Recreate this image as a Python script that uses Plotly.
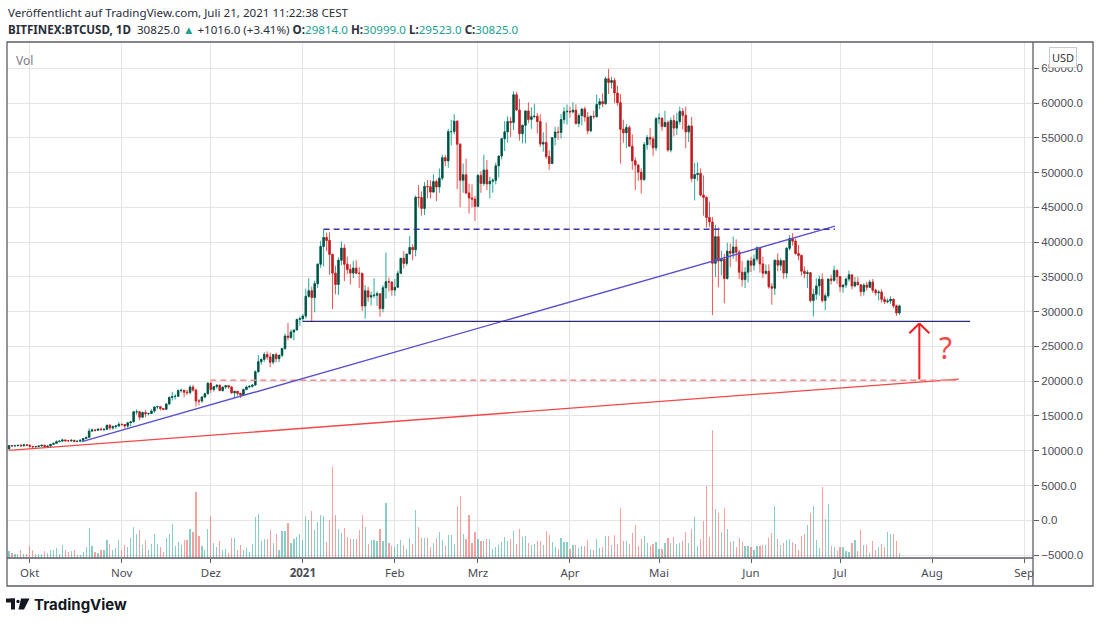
import pandas as pd
import plotly.graph_objects as go

# -----------------------------
# Daily BTCUSD candles, Bitfinex, 24 Sep 2020 - 21 Jul 2021
# -----------------------------
dates = pd.date_range("2020-09-24", "2021-07-21", freq="D")

opens = [
    # Sep 24-30
    10240, 10740, 10690, 10730, 10775, 10700, 10840,
    # Oct
    10780, 10620, 10570, 10590, 10680, 10790, 10600, 10670, 10920, 11060, 11300, 11380, 11550, 11430, 11420, 11500,
    11330, 11370, 11510, 11750, 11920, 12820, 12980, 12930, 13120, 13040, 13070, 13650, 13280, 13460, 13560,
    # Nov
    13800, 13760, 13550, 14030, 14150, 15590, 15600, 14830, 15480, 15330, 15360, 15700, 16290, 16330, 16070,
    15960, 16720, 17650, 17800, 17820, 18650, 18700, 18420, 18360, 19160, 18720, 17150, 17140, 17720, 18180,
    # Dec
    19700, 18790, 19220, 19420, 18650, 19150, 19360, 19170, 18320, 18540, 18250, 18030, 18800, 19160, 19270, 19440,
    21350, 22800, 23130, 23840, 23480, 22740, 23820, 23240, 23730, 24710, 26490, 26280, 27080, 27360, 28880,
    # Jan
    28990, 29380, 32200, 33000, 32030, 34030, 36820, 39370, 40670, 40240, 38240, 35540, 33910, 37390, 39150, 36830,
    36070, 35550, 36270, 35530, 35510, 30820, 33000, 32100, 32300, 32370, 32570, 30450, 33440, 34310, 34270,
    # Feb
    33110, 33520, 35520, 37670, 36940, 38290, 39240, 38900, 46450, 46400, 44850, 48010, 47970, 47200,
    48700, 47940, 49200, 52150, 51680, 55890, 55900, 57400, 54090, 48900, 49680, 47070, 46340, 46190,
    # Mar
    45140, 49590, 48440, 50370, 48370, 48760, 48880, 50970, 52380, 54880, 55860, 57330, 57200, 61190, 59000, 55600,
    56800, 58870, 57650, 58030, 58100, 57350, 54100, 54340, 52300, 51300, 55030, 55840, 55780, 57620, 58750,
    # Apr
    58800, 58730, 58970, 57060, 58200, 59130, 57990, 56000, 58090, 58050, 59790, 60200, 59890, 63500, 62970,
    63230, 61450, 60060, 56230, 55720, 56480, 53800, 51710, 51090, 50050, 49000, 54020, 55040, 54840, 53560,
    # May
    57750, 57830, 56630, 57210, 53240, 57480, 56400, 57350, 58800, 58230, 55860, 56700, 49150, 49720, 49880, 46760,
    46430, 43540, 42900, 36960, 40780, 37280, 37530, 34770, 38700, 38400, 39290, 38560, 35680, 34610, 35680,
    # Jun
    37290, 36690, 37560, 39190, 36860, 35520, 35800, 33580, 33380, 37390, 36690, 37330, 35550, 39100, 40520,
    40140, 38350, 38090, 35820, 35480, 35600, 31600, 32510, 33690, 34660, 31590, 32280, 34700, 34500, 35910,
    # Jul 1-21
    35040, 33570, 33820, 34690, 35290, 33690, 34220, 33860, 32880, 33810, 33510, 34260, 33090, 32730, 32820,
    31780, 31420, 31530, 31780, 30840, 29814,
]

highs = [
    10780, 10770, 10790, 10800, 10950, 10860, 10850,
    10920, 10660, 10600, 10700, 10800, 10800, 10690, 10950, 11120, 11480, 11440, 11720, 11560, 11550, 11620, 11540,
    11400, 11510, 11810, 12020, 13220, 13200, 13030, 13170, 13340, 13250, 13790, 13860, 13640, 13680, 14100,
    13900, 13820, 14070, 14250, 15750, 15960, 15760, 15650, 15830, 15460, 15960, 16350, 16480, 16330, 16130,
    16880, 17840, 18480, 18150, 18820, 18950, 18740, 18790, 19430, 19480, 18900, 17450, 17870, 18350, 19860,
    19920, 19320, 19570, 19510, 19180, 19420, 19400, 19300, 18640, 18560, 18270, 18950, 19400, 19330, 19560, 21560,
    23770, 23280, 24170, 24300, 24100, 23850, 24110, 23800, 24760, 26870, 28400, 27450, 27390, 28990, 29320,
    29650, 33300, 34800, 33600, 34450, 36950, 40200, 41850, 41350, 41400, 38300, 36600, 37800, 40100, 39700, 37900,
    36800, 37300, 37400, 36400, 35580, 33800, 33580, 32900, 34800, 32900, 32570, 33800, 38500, 34900, 34300,
    34700, 35900, 37700, 38700, 38300, 40900, 39700, 46700, 48200, 47300, 48650, 48950, 48900, 49750,
    49000, 50600, 52600, 52500, 56300, 57600, 58400, 57500, 54200, 51300, 52000, 48400, 48300, 46650,
    49800, 50200, 52600, 51800, 49400, 49200, 51400, 52400, 54900, 57400, 58100, 58000, 61700, 61600, 60600, 56900,
    58900, 60100, 59400, 59900, 58600, 58400, 55800, 57200, 53200, 55100, 56600, 56600, 58400, 59400, 59800,
    59500, 60100, 59800, 58500, 59300, 59500, 58700, 58200, 58900, 61200, 60700, 61400, 63800, 64900, 63800,
    63600, 62500, 61300, 57600, 57000, 56800, 55500, 52200, 51200, 50600, 54400, 55400, 56400, 55200, 58000,
    58500, 57900, 58900, 57500, 57900, 58300, 58600, 59500, 59300, 59500, 56900, 58000, 51400, 51500, 50600, 49600,
    46600, 45800, 43600, 42500, 42100, 38800, 38300, 39900, 39800, 40800, 40400, 38900, 37300, 36400, 37500,
    37900, 38200, 39400, 39200, 37900, 36800, 36800, 34100, 37500, 38400, 37700, 37400, 39300, 41000, 41300,
    40500, 39600, 38200, 36500, 36000, 35700, 33300, 34800, 35200, 35500, 32700, 34700, 35300, 36600, 36100,
    35100, 33900, 34900, 35900, 35300, 35000, 35000, 33900, 34100, 34300, 34600, 34700, 33300, 33100, 33200,
    32200, 31900, 32200, 31900, 31000, 30999,
]

lows = [
    10200, 10560, 10650, 10630, 10680, 10650, 10680,
    10440, 10370, 10520, 10550, 10630, 10530, 10560, 10540, 10830, 11050, 11260, 11200, 11300, 11280, 11300, 11220,
    11300, 11340, 11420, 11700, 11900, 12700, 12750, 12900, 12910, 12800, 13050, 12950, 12990, 13130, 13430,
    13620, 13200, 13290, 13530, 14100, 15180, 14380, 14720, 14850, 15100, 15300, 15460, 15970, 15780, 15800,
    15880, 16560, 17220, 17360, 17760, 18360, 17660, 18000, 18100, 18500, 16350, 16520, 16880, 17550, 18180,
    18330, 18500, 18930, 18590, 18500, 18860, 18900, 18200, 17650, 17930, 17570, 18000, 18730, 19000, 19060, 19300,
    21230, 22350, 22790, 23080, 22000, 22400, 22720, 22750, 23420, 24510, 25870, 26100, 25880, 27340, 27980,
    28600, 29000, 32000, 28600, 29900, 33400, 36300, 36500, 38700, 35300, 30400, 32500, 32400, 36700, 34400, 35400,
    33900, 34800, 35400, 33400, 30100, 29000, 31400, 30900, 31950, 30840, 29270, 29900, 31900, 32900, 32300,
    32300, 33420, 35400, 36200, 36600, 38200, 37400, 37950, 45000, 43800, 43900, 46300, 46300, 47100,
    45900, 47100, 48900, 50900, 50700, 53900, 55500, 47600, 45000, 47100, 46900, 44100, 45000, 43000,
    45000, 47100, 48100, 47500, 46300, 47100, 48300, 49300, 51900, 53100, 54300, 55100, 56100, 58900, 54600, 54200,
    54200, 57100, 56300, 57800, 55600, 53700, 53000, 52000, 50400, 51300, 53900, 54700, 54900, 57000, 56900,
    57900, 58500, 56900, 56500, 56800, 57300, 55500, 55800, 57700, 57900, 59100, 59400, 59800, 61300, 62100,
    60000, 59600, 51300, 54300, 53500, 53700, 50400, 47500, 48800, 47000, 48800, 53300, 53900, 52400, 53100,
    57000, 56000, 56500, 53000, 52900, 55200, 55400, 56900, 56200, 53500, 54400, 48600, 46000, 48800, 46600, 43800,
    42100, 42200, 29500, 35000, 33500, 35200, 31200, 34600, 36400, 37600, 37200, 34700, 33600, 33400, 34200,
    35700, 35900, 37200, 35600, 34800, 35300, 33300, 31000, 32400, 35800, 35900, 34700, 34800, 38800, 39500,
    38200, 37400, 35200, 34800, 33400, 31300, 29300, 31700, 32300, 31300, 30200, 32000, 33900, 34300, 34000,
    32800, 32700, 33400, 34300, 33200, 33500, 33800, 32200, 32300, 33000, 33400, 32700, 32300, 31600, 31300,
    31100, 31200, 31100, 30500, 29400, 29523,
]

closes = [
    10740, 10690, 10730, 10775, 10700, 10840, 10780,
    10620, 10570, 10590, 10680, 10790, 10600, 10670, 10920, 11060, 11300, 11380, 11550, 11430, 11420, 11500, 11330,
    11370, 11510, 11750, 11920, 12820, 12980, 12930, 13120, 13040, 13070, 13650, 13280, 13460, 13560, 13800,
    13760, 13550, 14030, 14150, 15590, 15600, 14830, 15480, 15330, 15360, 15700, 16290, 16330, 16070, 15960,
    16720, 17650, 17800, 17820, 18650, 18700, 18420, 18360, 19160, 18720, 17150, 17140, 17720, 18180, 19700,
    18790, 19220, 19420, 18650, 19150, 19360, 19170, 18320, 18540, 18250, 18030, 18800, 19160, 19270, 19440, 21350,
    22800, 23130, 23840, 23480, 22740, 23820, 23240, 23730, 24710, 26490, 26280, 27080, 27360, 28880, 28990,
    29380, 32200, 33000, 32030, 34030, 36820, 39370, 40670, 40240, 38240, 35540, 33910, 37390, 39150, 36830, 36070,
    35550, 36270, 35530, 35510, 30820, 33000, 32100, 32300, 32370, 32570, 30450, 33440, 34310, 34270, 33110,
    33520, 35520, 37670, 36940, 38290, 39240, 38900, 46450, 46400, 44850, 48010, 47970, 47200, 48700,
    47940, 49200, 52150, 51680, 55890, 55900, 57400, 54090, 48900, 49680, 47070, 46340, 46190, 45140,
    49590, 48440, 50370, 48370, 48760, 48880, 50970, 52380, 54880, 55860, 57330, 57200, 61190, 59000, 55600, 56800,
    58870, 57650, 58030, 58100, 57350, 54100, 54340, 52300, 51300, 55030, 55840, 55780, 57620, 58750, 58800,
    58730, 58970, 57060, 58200, 59130, 57990, 56000, 58090, 58050, 59790, 60200, 59890, 63500, 62970, 63230,
    61450, 60060, 56230, 55720, 56480, 53800, 51710, 51090, 50050, 49000, 54020, 55040, 54840, 53560, 57750,
    57830, 56630, 57210, 53240, 57480, 56400, 57350, 58800, 58230, 55860, 56700, 49150, 49720, 49880, 46760, 46430,
    43540, 42900, 36960, 40780, 37280, 37530, 34770, 38700, 38400, 39290, 38560, 35680, 34610, 35680, 37290,
    36690, 37560, 39190, 36860, 35520, 35800, 33580, 33380, 37390, 36690, 37330, 35550, 39100, 40520, 40140,
    38350, 38090, 35820, 35480, 35600, 31600, 32510, 33690, 34660, 31590, 32280, 34700, 34500, 35910, 35040,
    33570, 33820, 34690, 35290, 33690, 34220, 33860, 32880, 33810, 33510, 34260, 33090, 32730, 32820, 31780,
    31420, 31530, 31780, 30840, 29814, 30825,
]

# daily volume, hundreds of BTC
volume = [
    7, 5, 4, 4, 8, 4, 4,
    12, 8, 4, 4, 4, 7, 5, 8, 8, 10, 4, 13, 8, 6, 7, 8, 3, 3, 6, 11, 30, 12, 6, 5, 8, 8, 18, 14, 8, 10, 18,
    8, 13, 11, 20, 31, 24, 28, 13, 18, 8, 14, 24, 14, 11, 6, 20, 24, 34, 12, 16, 13, 18, 18, 29, 26, 66, 22, 12, 8, 29,
    42, 15, 11, 17, 8, 9, 5, 20, 20, 8, 13, 8, 10, 6, 14, 41, 44, 17, 19, 19, 28, 15, 24, 8, 27, 27, 35, 15, 19, 21, 24,
    18, 42, 38, 47, 28, 36, 43, 42, 16, 38, 91, 43, 29, 25, 30, 21, 19, 19, 19, 28, 43, 31, 14, 18, 18, 17, 29, 17, 55, 15, 12,
    11, 14, 18, 13, 9, 20, 14, 48, 31, 20, 20, 20, 11, 15, 20, 26, 18, 12, 23, 23, 14, 52, 62, 24, 19, 43, 15, 26,
    19, 17, 17, 19, 19, 9, 11, 13, 16, 21, 17, 19, 27, 14, 29, 21, 22, 15, 13, 14, 17, 17, 13, 27, 23, 16, 11, 9, 20, 16, 16,
    9, 13, 13, 10, 12, 12, 18, 9, 8, 19, 10, 11, 22, 22, 13, 23, 14, 50, 17, 17, 14, 25, 33, 12, 19, 22, 15, 12, 14, 16,
    9, 9, 15, 20, 15, 21, 14, 15, 17, 26, 15, 29, 41, 12, 19, 37, 72, 21, 128, 49, 45, 26, 50, 29, 16, 17, 11, 20, 16, 12, 12,
    11, 8, 12, 12, 13, 13, 20, 25, 52, 19, 13, 15, 18, 19, 16, 14, 8, 22, 24, 33, 45, 52, 18, 10, 71, 39, 54, 12, 11, 7,
    11, 11, 7, 6, 15, 18, 7, 28, 13, 13, 5, 17, 8, 11, 14, 11, 26, 24, 24, 17, 5,
]

for name, arr in [("opens", opens), ("highs", highs), ("lows", lows), ("closes", closes), ("volume", volume)]:
    assert len(arr) == len(dates), (name, len(arr), len(dates))

# month ticks on the time scale
month_ticks = ["2020-10-01", "2020-11-01", "2020-12-01", "2021-01-01", "2021-02-01", "2021-03-01",
               "2021-04-01", "2021-05-01", "2021-06-01", "2021-07-01", "2021-08-01", "2021-09-01"]
month_labels = ["Okt", "Nov", "Dez", "<b>2021</b>", "Feb", "Mrz", "Apr", "Mai", "Jun", "Jul", "Aug", "Sep"]

# user drawings (date, price)
trend_blue = (["2020-10-18 14:00", "2021-06-29 07:00"], [11300, 42300])
resistance_dash = (["2021-01-08", "2021-06-29 07:00"], [41850, 41850])
support_line = (["2021-01-01", "2021-08-13 19:00"], [28600, 28600])
trend_red = (["2020-09-24", "2021-08-10"], [10050, 20300])
level_red_dash = (["2020-11-30 20:00", "2021-08-10"], [20150, 20150])
arrow_x = ["2021-07-24 08:00", "2021-07-27 17:00", "2021-07-31 02:00"]
arrow_y = [20250, 28300, 26900]
question = ("2021-08-05 12:00", 24900)

UP_WICK, DN_WICK = "#26a69a", "#ef5350"
UP_BODY, DN_BODY = "#0a4d3e", "#bc1f24"


def px_x(x):
    return (x - 7) / 1026


def px_y(y):
    return (558 - y) / 516


body_hi = [max(o, c) for o, c in zip(opens, closes)]
body_lo = [min(o, c) for o, c in zip(opens, closes)]
vol_colors = ["rgba(38,166,154,0.55)" if c >= o else "rgba(239,83,80,0.55)" for o, c in zip(opens, closes)]

fig = go.Figure()

fig.add_trace(go.Bar(x=dates, y=volume, yaxis="y2", marker_color=vol_colors,
                     marker_line_width=0, width=0.4 * 86400000, showlegend=False))

# wicks
fig.add_trace(go.Candlestick(
    x=dates, open=opens, high=highs, low=lows, close=closes,
    increasing=dict(line=dict(color=UP_WICK, width=1), fillcolor=UP_WICK),
    decreasing=dict(line=dict(color=DN_WICK, width=1), fillcolor=DN_WICK),
    showlegend=False,
))
# bodies
fig.add_trace(go.Candlestick(
    x=dates, open=opens, high=body_hi, low=body_lo, close=closes,
    increasing=dict(line=dict(color=UP_BODY, width=0.6), fillcolor=UP_BODY),
    decreasing=dict(line=dict(color=DN_BODY, width=0.6), fillcolor=DN_BODY),
    showlegend=False,
))

shapes = []


def seg(pair, color, width, dash="solid"):
    shapes.append(dict(type="line", xref="x", yref="y", x0=pair[0][0], x1=pair[0][1],
                       y0=pair[1][0], y1=pair[1][1], line=dict(color=color, width=width, dash=dash)))


seg(trend_red, "#f24848", 1.3)
seg(level_red_dash, "#f48c8c", 1.5, "6px,4px")
seg(trend_blue, "#5a4fcf", 1.4)
seg(resistance_dash, "#3b35a8", 1.4, "6px,4px")
seg(support_line, "#2c2a78", 1.4)
# red arrow
seg(([arrow_x[1], arrow_x[1]], [arrow_y[0], arrow_y[1]]), "#f21c1c", 2)
seg(([arrow_x[0], arrow_x[1]], [arrow_y[2], arrow_y[1]]), "#f21c1c", 2)
seg(([arrow_x[2], arrow_x[1]], [arrow_y[2], arrow_y[1]]), "#f21c1c", 2)

# chart frame
FRAME = "#5b5e66"
shapes += [
    dict(type="rect", xref="paper", yref="paper", x0=0, x1=px_x(1093), y0=px_y(586), y1=1,
         line=dict(color=FRAME, width=1.3)),
    dict(type="line", xref="paper", yref="paper", x0=1, x1=1, y0=px_y(586), y1=1,
         line=dict(color=FRAME, width=1.3)),
    dict(type="line", xref="paper", yref="paper", x0=0, x1=1, y0=0, y1=0,
         line=dict(color=FRAME, width=1.3)),
]
# TradingView logo glyph
LOGO = "#131722"
shapes += [
    dict(type="rect", xref="paper", yref="paper", x0=px_x(6), x1=px_x(15), y0=px_y(602.5), y1=px_y(598.5),
         fillcolor=LOGO, line_width=0),
    dict(type="rect", xref="paper", yref="paper", x0=px_x(11), x1=px_x(15), y0=px_y(609.5), y1=px_y(598.5),
         fillcolor=LOGO, line_width=0),
    dict(type="circle", xref="paper", yref="paper", x0=px_x(16.3), x1=px_x(19.7), y0=px_y(603.2), y1=px_y(599.8),
         fillcolor=LOGO, line_width=0),
    dict(type="path", xref="paper", yref="paper",
         path=f"M {px_x(21)},{px_y(598.5)} L {px_x(29.5)},{px_y(598.5)} L {px_x(24)},{px_y(609.5)} "
              f"L {px_x(18.5)},{px_y(609.5)} Z",
         fillcolor=LOGO, line_width=0),
]

teal = "#22a093"
header2 = (f"<b>BITFINEX:BTCUSD, 1D</b>  30825.0 <span style='color:{teal}'>▲</span> +1016.0 (+3.41%) "
           f"<b>O:</b><span style='color:{teal}'>29814.0</span> <b>H:</b><span style='color:{teal}'>30999.0</span> "
           f"<b>L:</b><span style='color:{teal}'>29523.0</span> <b>C:</b><span style='color:{teal}'>30825.0</span>")

annotations = [
    dict(text="Veröffentlicht auf TradingView.com, Juli 21, 2021 11:22:38 CEST", x=px_x(6), y=px_y(13),
         xref="paper", yref="paper", xanchor="left", yanchor="middle", showarrow=False,
         font=dict(size=11.6, color="#2a2e39")),
    dict(text=header2, x=px_x(6), y=px_y(30), xref="paper", yref="paper", xanchor="left", yanchor="middle",
         showarrow=False, font=dict(size=11.6, color="#2a2e39")),
    dict(text="Vol", x=px_x(14), y=px_y(61), xref="paper", yref="paper", xanchor="left", yanchor="middle",
         showarrow=False, font=dict(size=12, color="#787b86")),
    dict(text="USD", x=px_x(1063), y=px_y(57), xref="paper", yref="paper", xanchor="center", yanchor="middle",
         showarrow=False, font=dict(size=11, color="#333"), bgcolor="white", bordercolor="#c8cad0",
         borderwidth=1, borderpad=2),
    dict(text="?", x=question[0], y=question[1], xref="x", yref="y", showarrow=False,
         font=dict(size=30, color="#f04c4c")),
    dict(text="<b>TradingView</b>", x=px_x(32), y=px_y(604.5), xref="paper", yref="paper", xanchor="left",
         yanchor="middle", showarrow=False, font=dict(size=15, color=LOGO, family="Inter")),
]

fig.update_layout(
    width=1100, height=623,
    margin=dict(l=7, r=67, t=42, b=65),
    paper_bgcolor="white", plot_bgcolor="white",
    font=dict(family="Noto Sans, Liberation Sans, sans-serif", size=11, color="#4a4d55"),
    showlegend=False,
    xaxis=dict(
        type="date", range=["2020-09-23 08:00", "2021-09-04 00:00"],
        rangeslider=dict(visible=False),
        tickvals=month_ticks, ticktext=month_labels,
        showgrid=True, gridcolor="#e4e4e4", gridwidth=1,
        ticks="outside", ticklen=4, tickcolor="#5b5e66",
        showline=False, zeroline=False,
        tickfont=dict(size=11.5, color="#4a4d55"),
    ),
    yaxis=dict(
        side="right", range=[-5430, 68780], tick0=0, dtick=5000, tickformat=".1f",
        showgrid=True, gridcolor="#e4e4e4", gridwidth=1, zeroline=False,
        ticks="outside", ticklen=5, tickcolor="#5b5e66", showline=False,
        tickfont=dict(family="Liberation Sans", size=11.5, color="#4a4d55"),
    ),
    yaxis2=dict(overlaying="y", range=[0, 516], visible=False, fixedrange=True),
    shapes=shapes,
    annotations=annotations,
    bargap=0,
    boxgap=0.3,
)

# page has a default 8px body margin; drop it so the figure sits at the window corner
fig.write_html("out.html", config={"displayModeBar": False},
               post_script="document.body.style.margin='0';")
